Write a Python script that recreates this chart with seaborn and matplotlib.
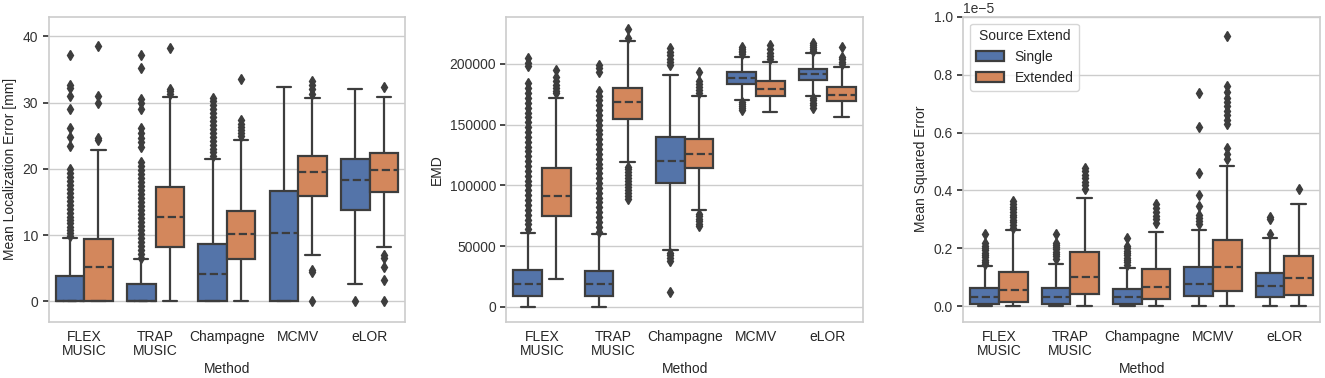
import matplotlib
matplotlib.use("Agg")
import matplotlib.pyplot as plt
import pandas as pd
import seaborn as sns

methods = ["FLEX\nMUSIC", "TRAP\nMUSIC", "Champagne", "MCMV", "eLOR"]
hues = ["Single", "Extended"]
REP = 400  # copies of each quartile value so the box edges land on the read values

# ---- Mean Localization Error [mm] ----
mle_q1 = {"Single": [0, 0, 0, 0, 13.8], "Extended": [0, 8.15, 6.4, 15.85, 16.45]}
mle_med = {"Single": [0, 0, 4.2, 10.3, 18.35], "Extended": [5.13, 12.74, 10.11, 19.58, 19.88]}
mle_q3 = {"Single": [3.88, 2.57, 8.66, 16.66, 21.43], "Extended": [9.36, 17.27, 13.64, 21.94, 22.45]}
mle_lo = {"Single": [0, 0, 0, 0, 2.67], "Extended": [0, 0, 0, 7.05, 8.26]}
mle_hi = {"Single": [9.6, 6.34, 21.43, 32.4, 32.0], "Extended": [22.9, 30.85, 24.36, 30.65, 30.85]}
mle_fliers = {
    "Single": [
        [9.8, 10.3, 10.8, 11.3, 11.8, 12.3, 12.8, 13.4, 14.0, 14.6, 15.2, 15.8, 16.4, 17.0,
         17.6, 18.2, 18.8, 19.4, 20.0, 23.4, 24.8, 26.1, 29.0, 31.0, 32.2, 32.6, 37.2],
        [6.6, 7.2, 7.8, 8.4, 9.0, 9.6, 10.2, 10.8, 11.4, 12.0, 12.6, 13.2, 13.8, 14.4, 15.0,
         15.6, 16.2, 16.8, 17.4, 18.0, 18.6, 19.2, 19.8, 20.4, 21.0, 23.3, 24.0, 24.7, 25.4,
         26.2, 29.0, 30.0, 30.5, 35.2, 37.2],
        [22.0, 22.5, 23.0, 23.6, 24.2, 24.8, 25.4, 26.0, 26.6, 27.2, 27.8, 28.4, 29.0, 29.6,
         30.2, 30.7],
        [],
        [0.0],
    ],
    "Extended": [
        [24.3, 24.7, 30.0, 31.0, 38.5],
        [31.3, 31.8, 32.1, 38.2],
        [25.0, 25.4, 25.8, 26.3, 26.8, 27.4, 33.5],
        [0.0, 4.5, 4.8, 31.3, 32.0, 32.6, 33.2],
        [0.0, 3.3, 5.2, 6.6, 7.0, 32.4],
    ],
}

# ---- EMD ----
emd_q1 = {"Single": [9300, 9000, 102000, 183800, 186500], "Extended": [74600, 155000, 114400, 173900, 169200]}
emd_med = {"Single": [18900, 18900, 119900, 188100, 191400], "Extended": [91400, 168800, 125700, 179400, 174200]}
emd_q3 = {"Single": [30500, 29600, 139700, 193100, 195900], "Extended": [114400, 180600, 138600, 185700, 181100]}
emd_lo = {"Single": [0, 0, 47200, 170600, 173900], "Extended": [23300, 119100, 79900, 160200, 156600]}
emd_hi = {"Single": [60900, 60100, 191300, 206000, 209000], "Extended": [172300, 218500, 173700, 201900, 197800]}
emd_fliers = {
    "Single": [
        [64000, 68000, 72000, 76000, 80000, 84000, 88000, 92000, 96000, 100000, 104000,
         108000, 112000, 116000, 120000, 124000, 128000, 132000, 136000, 140000, 144000,
         148000, 152000, 156000, 160000, 164000, 168000, 172000, 176000, 180000, 184000,
         198000, 200500, 205000],
        [62000, 66000, 70000, 74000, 78000, 82000, 86000, 90000, 94000, 98000, 102000,
         106000, 110000, 114000, 118000, 122000, 126000, 130000, 134000, 138000, 142000,
         146000, 150000, 154000, 158000, 162000, 166000, 170000, 174000, 178000,
         193000, 196500, 199500],
        [12500, 38000, 40500, 42500, 44500, 199000, 201500, 204000, 207000, 210000, 213000],
        [162500, 164000, 165500, 167000, 168500, 208000, 209500, 211000, 212500, 214000],
        [164000, 166000, 168000, 170000, 172000, 211000, 212500, 214000, 215500, 217000],
    ],
    "Extended": [
        [176000, 178000, 180500, 183000, 186000, 189000, 195000],
        [88500, 91000, 93500, 96000, 98500, 101000, 103500, 106000, 108500, 111000,
         113500, 115500, 221000, 228500],
        [66500, 68500, 70500, 72500, 74500, 76500, 176000, 178500, 181000, 183500,
         186000, 193500],
        [204000, 206500, 209000, 212000, 216000],
        [200000, 202000, 204000, 206000, 214000],
    ],
}

# ---- Mean Squared Error (in units of 1e-5) ----
MSE_UNIT = 1e-5
mse_q1 = {"Single": [0.0093, 0.008, 0.007, 0.037, 0.031], "Extended": [0.016, 0.044, 0.0255, 0.052, 0.040]}
mse_med = {"Single": [0.032, 0.032, 0.032, 0.078, 0.069], "Extended": [0.0575, 0.101, 0.0655, 0.1345, 0.0966]}
mse_q3 = {"Single": [0.062, 0.064, 0.060, 0.1345, 0.115], "Extended": [0.117, 0.186, 0.129, 0.23, 0.1725]}
mse_lo = {"Single": [0, 0, 0, 0, 0], "Extended": [0, 0, 0, 0, 0]}
mse_hi = {"Single": [0.138, 0.146, 0.132, 0.2645, 0.236], "Extended": [0.263, 0.374, 0.257, 0.486, 0.354]}
mse_fliers = {
    "Single": [
        [0.145, 0.153, 0.161, 0.169, 0.177, 0.185, 0.193, 0.201, 0.209, 0.217, 0.25],
        [0.165, 0.173, 0.181, 0.189, 0.197, 0.205, 0.213, 0.22, 0.25],
        [0.144, 0.152, 0.16, 0.168, 0.176, 0.184, 0.192, 0.2, 0.208, 0.236],
        [0.285, 0.295, 0.305, 0.315, 0.345, 0.385, 0.46, 0.62, 0.735],
        [0.25, 0.3, 0.31],
    ],
    "Extended": [
        [0.272, 0.281, 0.29, 0.299, 0.308, 0.317, 0.326, 0.335, 0.344, 0.353, 0.362],
        [0.405, 0.418, 0.43, 0.442, 0.454, 0.466, 0.478],
        [0.287, 0.3, 0.313, 0.326, 0.339, 0.352],
        [0.51, 0.527, 0.545, 0.63, 0.645, 0.66, 0.675, 0.69, 0.705, 0.72, 0.74, 0.76, 0.935],
        [0.406],
    ],
}


def build_table(q1, med, q3, lo, hi, fliers, scale=1.0):
    rows = []
    for h in hues:
        for i, m in enumerate(methods):
            vals = (fliers[h][i] + [lo[h][i], hi[h][i]]
                    + [q1[h][i]] * REP + [med[h][i]] * REP + [q3[h][i]] * REP)
            rows += [(m, h, v * scale) for v in vals]
    return pd.DataFrame(rows, columns=["Method", "Source Extend", "value"])


df_mle = build_table(mle_q1, mle_med, mle_q3, mle_lo, mle_hi, mle_fliers)
df_emd = build_table(emd_q1, emd_med, emd_q3, emd_lo, emd_hi, emd_fliers)
df_mse = build_table(mse_q1, mse_med, mse_q3, mse_lo, mse_hi, mse_fliers, MSE_UNIT)

sns.set_theme(style="whitegrid", rc={
    "axes.edgecolor": "#cccccc",
    "grid.color": "#cccccc",
    "ytick.left": True,
    "ytick.color": "#333333",
    "ytick.major.size": 4,
    "xtick.major.size": 0,
    "font.size": 10,
    "axes.labelsize": 10,
    "xtick.labelsize": 10,
    "ytick.labelsize": 10,
    "legend.fontsize": 10,
    "legend.title_fontsize": 10,
})
plt.rcParams["font.family"] = ["Liberation Sans", "DejaVu Sans"]

fig = plt.figure(figsize=(13.25, 3.78), dpi=100)
W, H = 1325, 378
boxes = [(48.5, 863 - 506.3), (506.3, 863 - 506.3), (963.3, 1320 - 963.3)]
top, bottom = 16.7, 321.7
axes = [fig.add_axes([l / W, (H - bottom) / H, w / W, (bottom - top) / H]) for l, w in boxes]

palette = {"Single": "#4C72B0", "Extended": "#DD8452"}
panels = [
    (df_mle, "Mean Localization Error [mm]", (-3.05, 42.95)),
    (df_emd, "EMD", (-12100, 238900)),
    (df_mse, "Mean Squared Error", (-0.053e-5, 1.0e-5)),
]
for k, (ax, (df, ylabel, ylim)) in enumerate(zip(axes, panels)):
    sns.boxplot(data=df, x="Method", y="value", hue="Source Extend", ax=ax,
                palette=palette, saturation=0.85, linewidth=1.6, linecolor="#3d3d3d",
                medianprops=dict(linestyle="--"),
                flierprops=dict(marker="d", markersize=5.5, markerfacecolor="#3d3d3d",
                                markeredgecolor="#3d3d3d"),
                legend=(k == 2))
    ax.set_ylabel(ylabel)
    ax.set_xlabel("Method", labelpad=3)
    ax.set_ylim(*ylim)
    ax.tick_params(axis="x", pad=6)
    for t in ax.get_xticklabels():
        t.set_linespacing(1.0)
    for s in ax.spines.values():
        s.set_color("#cccccc")
        s.set_linewidth(1.2)

leg = axes[2].legend(title="Source Extend", loc="upper left")

fig.savefig("out.png", dpi=100)
